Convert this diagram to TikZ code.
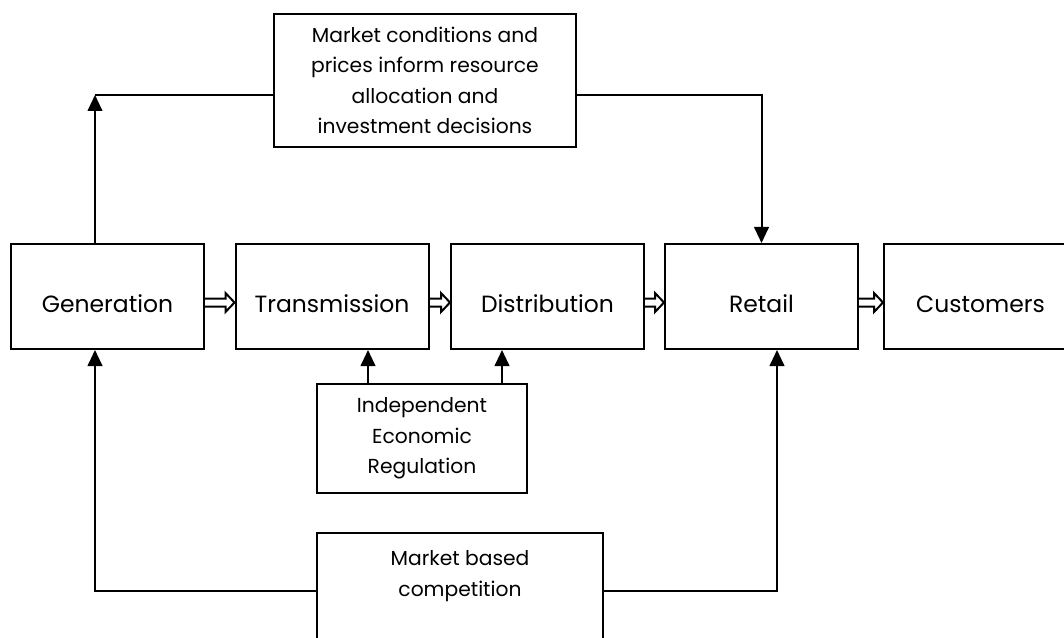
\documentclass[tikz,border=0pt]{standalone}
\usepackage{fontspec}
\setmainfont{Poppins}
\usetikzlibrary{arrows.meta,calc}

\begin{document}
\begin{tikzpicture}[x=0.75pt,y=-0.75pt,
  box/.style={draw, line width=1.5pt, inner sep=0pt},
  stage/.style={box, minimum width=144.75pt, minimum height=78.75pt,
    font=\fontsize{17.6}{22}\selectfont, text height=23.4pt, text depth=0pt},
  note/.style={box, align=center, font=\fontsize{15.2}{22.9}\selectfont},
  arr/.style={line width=1.5pt, -{Triangle[length=12pt,width=11pt]}},
  link/.style={line width=1.5pt},
  % hollow block arrow between two stages
  flow/.style={line width=1.5pt, line join=miter, to path={
    ($(\tikztostart)+(0,-4)$) -- ($(\tikztotarget)+(-9,-4)$)
    -- ($(\tikztotarget)+(-9,-9.5)$) -- (\tikztotarget)
    -- ($(\tikztotarget)+(-9,9.5)$) -- ($(\tikztotarget)+(-9,4)$)
    -- ($(\tikztostart)+(0,4)$)}}]

\useasboundingbox (0,0) rectangle (1064,638);
\clip (0,0) rectangle (1064,638);

% value chain
\node[stage] (gen)    at (107.5,296.5) {Generation};
\node[stage] (trans)  at (332,296.5)   {Transmission};
\node[stage] (dist)   at (547.5,296.5) {Distribution};
\node[stage] (retail) at (761.5,296.5) {Retail};
\node[stage] (cust)   at (980.5,296.5) {Customers};

% supporting blocks
\node[note, minimum width=226.5pt, minimum height=99.75pt] (info) at (425,80.5)
  {Market conditions and\\prices inform resource\\allocation and\\investment decisions};
\node[note, minimum width=157.5pt, minimum height=81.75pt] (reg) at (422,438.5)
  {Independent\\Economic\\Regulation};
\node[note, minimum width=214.5pt, minimum height=87pt, text depth=26pt] (comp) at (460,591)
  {Market based\\competition};

% helper coordinates for connector routing
\coordinate (gx) at (95,0);
\coordinate (ty) at (0,95);
\coordinate (rt) at (368,0);
\coordinate (rd) at (502,0);
\coordinate (rx) at (777,0);

% flow along the chain
\draw[flow] ([yshift=-4.5pt]gen.east)    to ([yshift=-4.5pt]trans.west);
\draw[flow] ([yshift=-4.5pt]trans.east)  to ([yshift=-4.5pt]dist.west);
\draw[flow] ([yshift=-4.5pt]dist.east)   to ([yshift=-4.5pt]retail.west);
\draw[flow] ([yshift=-4.5pt]retail.east) to ([yshift=-4.5pt]cust.west);

% market information loop
\draw[arr] (gen.north -| gx) -- (gx |- ty);
\draw[link] (info.west |- ty) -- (gx |- ty);
\draw[arr] (info.east |- ty) -| (retail.north);

% regulation
\draw[arr] (reg.north -| rt) -- (trans.south -| rt);
\draw[arr] (reg.north -| rd) -- (dist.south -| rd);

% competition
\draw[arr] (comp.west) -| (gen.south -| gx);
\draw[arr] (comp.east) -| (retail.south -| rx);
\end{tikzpicture}
\end{document}
